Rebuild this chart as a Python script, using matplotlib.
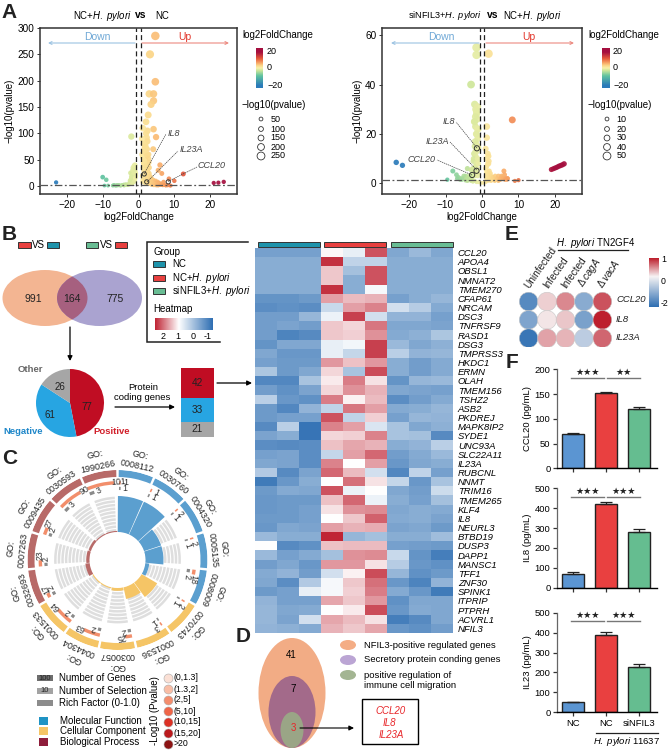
import numpy as np
import matplotlib
matplotlib.use("Agg")
import matplotlib.pyplot as plt
from matplotlib.colors import LinearSegmentedColormap, Normalize
from matplotlib.patches import Ellipse, Rectangle

plt.rcParams['font.family'] = ['Liberation Sans', 'DejaVu Sans']
plt.rcParams['font.size'] = 6.5
plt.rcParams['mathtext.fontset'] = 'custom'
plt.rcParams['mathtext.rm'] = 'Liberation Sans'
plt.rcParams['mathtext.it'] = 'Liberation Sans:italic'
plt.rcParams['mathtext.bf'] = 'Liberation Sans:bold'

W, H = 669, 750

# ---- panel A data
a1_fc = [4.7, 3.2, 4.7, 3.0, 4.2, 4.2, 3.5, 2.7, 2.1, 4.2, 2.5, 4.9, -2.0, 2.3, 2.5, 2.0, 4.1, 2.4, 2.8, 1.8,
         2.0, 2.9, 6.0, 1.5, -1.0, -1.5, -1.0, -1.8, -2.2, -1.0, 5.5, 6.5, 1.5, 2.0, 12.5, 8.5, 10.0, 7.0, -10.0, -9.0,
         -9.5, -8.5, -6.8, -6.0, -5.0, -4.0, -3.0, -2.0, -1.5, -23.0, 21.0, 22.3, 23.8, 1.2, 1.4, 1.7, 2.2, 2.6, 3.0, 3.3,
         3.6, 4.0, 4.4, 4.8, 5.2, 5.6, 6.0, 6.4, 6.8, 7.2, 7.6, 8.0, 9.0, -0.8, -1.2, -1.6, -2.5, -3.5, -4.5, -5.5,
         -6.3, -7.2, 1.1, 1.3, 1.6, 1.9, 2.3, 2.7, 3.1, 3.5, 3.9, 4.3, 5.0, 5.5, 1.5, 1.8, 2.1, -1.3, -1.9, -2.6,
         -7, -6.5, -6, -5.5, -5, -4.5, -4, -3.5, -3, -2.5, -2, -1.5, -1, -0.8, -1.2, -1.6, -2, -2.4, -1, -1.4, -1.8, -2.2,
         -1.2, -1.6, -2, -0.9, -1.3, -1.7, 1, 1, 1.2, 1.4, 1.6, 1.8, 2, 2.2, 2.4, 2.6, 2.8, 3, 1.1, 1.3, 1.5, 1.7, 1.9, 2.1,
         2.3, 2.5, 2.7, 1.2, 1.5, 1.8, 2.1, 2.4, 2.7, 3.0, 3.3, 3.6, 3.9, 4.2, 4.5, 4.8, 5.1, 5.4, 5.7, 6, 6.3, 6.6, 3.2,
         3.6, 4, 4.4, 4.8, 5.2, 5.6, 6.0, 6.4, 6.8, 7.2, 7.6, 8.2, 8.8]
a1_p = [285, 250, 198, 175, 175, 162, 155, 135, 122, 108, 105, 93, 94, 92, 85, 82, 70, 70, 60, 62,
        50, 45, 40, 40, 40, 35, 30, 25, 25, 18, 30, 24, 25, 22, 23, 14, 10, 8, 17, 12,
        1, 1, 2, 1, 1, 1, 2, 5, 10, 7, 6, 6.5, 8, 55, 45, 38, 32, 28, 24, 18,
        14, 12, 9, 7, 5, 4, 3, 3, 2, 2, 1.5, 1.5, 1, 20, 15, 12, 6, 3, 2, 1.5,
        1, 1, 8, 12, 18, 5, 10, 4, 6, 3, 2, 1.5, 1, 1, 30, 75, 100, 8, 5, 3,
        1.5, 1, 2, 2, 1, 2, 3, 3, 3, 5, 6, 8, 10, 25, 28, 20, 14, 10, 35, 22, 16, 12,
        38, 30, 18, 15, 8, 5, 60, 90, 110, 80, 70, 65, 75, 45, 58, 40, 52, 35, 20, 35, 42, 48, 28, 38,
        24, 30, 18, 12, 14, 10, 12, 16, 10, 9, 14, 12, 8, 11, 7, 10, 6, 8, 6, 4, 5, 3, 4,
        3, 5, 4, 3, 3, 4, 2, 2, 1.5, 2, 1, 1.5, 1]
a2_fc = [-1.5, -1.5, 1.8, -3.0, 8.3, -2.0, -1.7, -1.5, -1.3, -2.0, -1.8, -1.0, 1.3, -1.5, -1.2, 1.3, -1.6, -1.0, 1.0, 1.6,
         1.8, 1.2, -2.2, -2.4, 1.8, 1.3, -4.0, -3.0, 1.5, -8.0, -9.5, -7.0, -6.5, -6.0, -5.5, -5.0, -4.5, -4.0, -3.5, -3.0,
         -2.5, -2.0, -1.5, -1.0, -0.5, 0.0, 0.5, 1.0, 1.5, 2.0, 2.5, 3.0, 3.5, 4.0, 4.5, 5.0, 5.5, 6.0, 6.2, 6.8,
         7.0, 9.0, 10.0, -23.5, -21.8, 19.0, 19.5, 20.0, 20.5, 21.0, 21.5, 22.0, 22.5, -1.2, -1.8, -1.4, 1.2, 2.2, 2.8, 3.4,
         -1.2, -1.5, -1.8, -2.1, -1.3, -1.6, -1.9, -1.1, -1.4, -1.7, -2, -2.3, -1.2, -1.5, -1.8, -1, -1.3, -1.6, -1.9, -2.2,
         -2.5, -1.1, -1.4, -1.7, -2, -1.2, -3, -3.5, -2.8, -3.2, -4.5, -5, -5.5, -3.8, -4.2, -6, -6.8, 1, 1.3, 1.6,
         1.9, 1.1, 1.4, 1.7, 2, 2.3, 1.2, 1.5, 1.8, 2.1, 2.4, 2.7, 3, 3.3, 3.6, 3.9, 4.2, 4.5, 4.8, 5.1, 5.4, 5.7, 6.3, 6.6, 7]
a2_p = [55, 52, 52.5, 40, 25.7, 32, 30, 28, 26, 25, 23, 22, 23, 20, 18, 18.5, 16, 14.5, 14, 12,
        11, 10, 12, 9, 8, 7, 6, 5.5, 5, 5, 1.5, 3.5, 2.5, 2, 1.5, 2, 1.2, 1, 2, 1,
        0.7, 1, 0.5, 0.5, 0.3, 0.2, 0.3, 0.5, 1, 1.2, 1, 1.5, 1, 2, 1, 1.5, 2.5, 5, 3.5, 1.5,
        2, 1, 1.3, 8.5, 7.3, 5.6, 5.9, 6.2, 6.5, 6.9, 7.2, 7.5, 7.9, 19, 13, 9, 4, 3, 2.5, 2,
        31, 29, 27, 25, 22, 20, 17, 15, 13, 11, 15, 10, 10, 8, 7, 8, 6, 5, 6, 5,
        6, 4, 4, 4, 3, 3, 3.5, 3, 2, 2, 3, 3, 2, 2.5, 2, 1.5, 2, 6, 5, 8,
        9, 3, 3.5, 4, 5, 4, 2, 2, 3, 2, 3, 2, 2.5, 2, 3, 1.5, 2, 3, 1.5, 2, 3, 2, 1.5, 2, 2]
a1_open_fc = [1.6, 2.3, 8.3]
a1_open_p = [23, 8, 8]
a2_open_fc = [-1.4, -1.5, -2.7]
a2_open_p = [14.2, 5.1, 3.4]
size_legend_1 = [50, 100, 150, 200, 250]
size_legend_2 = [10, 20, 30, 40, 50]

# ---- panel B data
venn_counts = [991, 164, 775]
pie_values = [77, 61, 26]
stack_values = [42, 33, 21]
stack_colors = ['#c00d23', '#27a5e2', '#a6a6a6']
genes = ['CCL20', 'APOA4', 'OBSL1', 'NMNAT2', 'TMEM270', 'CFAP61', 'NRCAM', 'DSC3', 'TNFRSF9', 'RASD1', 'DSG3',
         'TMPRSS3', 'HKDC1', 'ERMN', 'OLAH', 'TMEM156', 'TSHZ2', 'ASB2', 'PKDREJ', 'MAPK8IP2', 'SYDE1', 'UNC93A',
         'SLC22A11', 'IL23A', 'RUBCNL', 'NNMT', 'TRIM16', 'TMEM265', 'KLF4', 'IL8', 'NEURL3', 'BTBD19', 'DUSP3',
         'DAPP1', 'MANSC1', 'TFF1', 'ZNF30', 'SPINK1', 'ITPRIP', 'PTPRH', 'ACVRL1', 'NFIL3']
heat = [
    [-.7, -.7, -.7, .85, .55, 2.05, -.6, -.3, -.6],
    [-.5, -.5, -.5, 2.3, .1, .1, -.5, -.5, -.5],
    [-.5, -.5, -.5, 1.2, -.2, 2.05, -.5, -.5, -.5],
    [-.5, -.5, -.5, 1.2, -.5, 2.05, -.5, -.5, -.5],
    [-.5, -.5, -.5, 2.3, -.5, .7, -.5, -.5, -.5],
    [-.9, -.9, -.8, 1.5, 1.3, 1.35, -.7, -.5, -.35],
    [-1, -.95, -1, .2, 1.5, 1.7, .3, 0, -.55],
    [-.75, -.75, -.35, .6, 2.2, .3, -.4, -.4, -.7],
    [-.75, -.65, -.75, 1.2, 1.1, 1.8, -.6, -.6, -.65],
    [-.75, -1.15, -1.05, 1.2, 1.15, 1.6, -.55, -.45, -.1],
    [-.9, -.6, -.6, .55, .65, 2.2, -.3, -.6, -.45],
    [-.6, -.85, -.85, .55, .15, 2.2, .05, -.4, -.35],
    [-.7, -.8, -.8, 1.55, 1.25, 1.55, -.5, -.75, -.55],
    [-.1, -.8, -.6, 1.1, -.15, 2.1, -.5, -.75, -.55],
    [-1.1, -1.1, -.15, .95, 1.75, 1.0, -.9, -.35, -.3],
    [-.75, -.95, -.65, 1.1, 1.6, 1.35, -.6, -.65, -.7],
    [.05, -.85, -.95, 1.75, .9, 1.3, -1, -.75, -.55],
    [-.8, -1.1, -.4, .1, 1.8, 1.5, -.55, -.5, -.35],
    [-.8, -.7, -.7, 2.05, .1, 1.15, -.7, -.35, -.4],
    [-1.05, .05, -1.4, 1.7, 1.5, .4, -.15, -.6, -.45],
    [-.65, -.5, -1.4, 1.1, 1.15, 1.7, -.15, -.2, -1.05],
    [-1, -1.05, -1, 1.25, 1.45, 1.35, -.5, -.4, .05],
    [-.7, -.65, -1, .15, 1.5, 1.9, -.75, -.55, -.3],
    [-.6, -.65, -1, 1.7, .8, 1.5, -.85, -.6, -.5],
    [-.05, -1.05, -.65, 1.9, 1.3, .3, -1.1, .1, -.7],
    [-1.3, -.85, -.5, .8, 1.85, 1.0, .15, -.85, -.15],
    [-.8, -.55, -.6, 2.05, .6, .8, -.6, -.75, .25],
    [-.85, -.8, -.8, 1.25, 1.9, .6, -.5, -.7, -.2],
    [-.85, -.8, -.7, 1.0, 1.6, 1.65, -.6, -.5, -.55],
    [-.8, -.8, -.7, .8, 1.2, 1.95, -.55, -.5, -.65],
    [-.85, -.6, -.65, 1.5, 1.35, 1.4, -.65, -.6, -.8],
    [-.3, -.5, -.5, 2.4, -.35, -.2, -.5, -.5, -.25],
    [.8, -1.05, -.95, 1.25, 1.3, 1.3, -.7, -.75, -.8],
    [-.3, -.7, -.55, -.2, 1.6, 1.65, .2, -.9, -1.25],
    [-.75, -.6, -.85, 1.55, 1.55, 1.0, 0, -.85, -.95],
    [-.55, -.4, -.75, .3, .9, 2.1, -.35, -.95, -.8],
    [-.6, -1, -.05, .7, 1.2, 1.85, -.85, -1.15, -.4],
    [-.8, -.7, .55, .7, 1.15, 1.75, -.55, -.85, -1.3],
    [-.4, -.7, -.7, 1.45, 1.2, 1.55, -.95, -.6, -.6],
    [-.35, -.6, -.55, .8, .95, 2.1, -.85, -.55, -.6],
    [-.35, -.65, .3, 1.45, 1.3, 1.0, -1.25, -1.05, -.6],
    [-.4, -.45, -.55, 1.35, 1.2, 1.45, -.85, -.95, -.75],
]

# ---- panel C data
go_ids = ['0008112', '0030760', '0004320', '0005135', '0008009', '0070743', '0001536', '0030057',
          '0044304', '0001533', '0032693', '0007263', '0009435', '0030593', '1990266']
go_genes = [1, 1, 2, 2, 18, 2, 3, 25, 63, 64, 17, 23, 27, 90, 101]
go_select = [1, 1, 1, 1, 2, 1, 1, 2, 2, 2, 2, 2, 2, 3, 3]
go_rich = [1.0, 1.0, .5, .5, .11, .5, .33, .08, .03, .03, .12, .09, .07, .03, .03]
go_group = ['MF'] * 5 + ['CC'] * 5 + ['BP'] * 5
go_colors = {'MF': '#5b9fcf', 'CC': '#f5c566', 'BP': '#b86a68'}
pval_labels = ['(0,1.3]', '(1.3,2]', '(2,5]', '(5,10]', '(10,15]', '(15,20]', '>20']
pval_colors = ['#fbe0d5', '#f9bda5', '#f48d6d', '#ef6548', '#dc3125', '#bb1a1d', '#8c1414']

# ---- panel E data
e_rows = ['CCL20', 'IL8', 'IL23A']
e_cols = ['Uninfected', 'Infected', 'Infected', r'$\Delta\,\mathit{cagA}$', r'$\Delta\,\mathit{vacA}$']
e_vals = [[-1.7, 0.1, .5, -1.2, .8],
          [-1.3, -.02, .15, -1.35, 1.1],
          [-2.0, .35, .25, -.7, .7]]

# ---- panel F data
f_names = ['CCL20 (pg/mL)', 'IL8 (pg/mL)', 'IL23 (pg/mL)']
f_means = [[70, 152, 119], [70, 422, 282], [50, 388, 225]]
f_errs = [[2, 3, 5], [8, 10, 15], [2, 14, 18]]
f_tops = [200, 500, 500]
f_ticks = [[0, 50, 100, 150, 200], [0, 100, 200, 300, 400, 500], [0, 100, 200, 300, 400, 500]]
f_stars = [['\u2605\u2605\u2605', '\u2605\u2605'], ['\u2605\u2605\u2605', '\u2605\u2605\u2605'], ['\u2605\u2605\u2605', '\u2605\u2605\u2605']]
f_colors = ['#5b95d2', '#e94040', '#65bd90']

fig = plt.figure(figsize=(W / 100, H / 100), dpi=100)


def px_axes(x0, y0, x1, y1, **kw):
    # axes given by pixel corners, y counted from the top
    return fig.add_axes([x0 / W, 1 - y1 / H, (x1 - x0) / W, (y1 - y0) / H], **kw)


volc = LinearSegmentedColormap.from_list('volc', [
    (0.0, '#2b7bba'), (3 / 50, '#2b7bba'), (15 / 50, '#5fc3a0'), (22 / 50, '#cfe79a'), (25 / 50, '#f9f0ab'),
    (28 / 50, '#fbd88a'), (31 / 50, '#f9ad6a'), (37 / 50, '#e65a3a'), (45 / 50, '#a50f3f'), (1.0, '#a50f3f')])


def dot_size(p, pmax):
    return ((3.5 + 5 * np.sqrt(np.asarray(p, dtype=float) / pmax)) * 0.72) ** 2


# volcano plots
volcano_cfg = [
    (a1_fc, a1_p, a1_open_fc, a1_open_p, (40, 28, 237, 194), (-27.5, 27.5), (-15, 300), [0, 50, 100, 150, 200, 250, 300], 285, 9),
    (a2_fc, a2_p, a2_open_fc, a2_open_p, (382, 28, 582, 194), (-27.4, 27.4), (-4.3, 62.9), [0, 20, 40, 60], 55, 14),
]
for fc, p, ofc, op, box, xl, yl, yt, pmax, open_s in volcano_cfg:
    ax = px_axes(*box)
    ax.scatter(fc, p, c=fc, cmap=volc, norm=Normalize(-25, 25), s=dot_size(p, pmax), linewidths=0, alpha=.92, zorder=2)
    ax.scatter(ofc, op, s=open_s, facecolors='none', edgecolors='#333333', linewidths=.7, zorder=4)
    ax.axvline(-0.6, color='#222222', lw=.9, ls=(0, (4, 2.5)), zorder=3)
    ax.axvline(0.6, color='#222222', lw=.9, ls=(0, (4, 2.5)), zorder=3)
    ax.axhline(1.3, color='#555555', lw=.9, ls=(0, (6, 2, 1.5, 2)), zorder=3)
    ax.set_xlim(*xl)
    ax.set_ylim(*yl)
    ax.set_xticks([-20, -10, 0, 10, 20])
    ax.set_yticks(yt)
    ax.tick_params(length=2.5, width=.7, pad=1.5, labelsize=7.2, color='#333333')
    for s in ax.spines.values():
        s.set_linewidth(1.1)
        s.set_color('#333333')
    ax.set_xlabel('log2FoldChange', fontsize=7, labelpad=1.5)
    ax.set_ylabel('\u2212log10(pvalue)', fontsize=7, labelpad=2)

# heatmap
heat_cmap = LinearSegmentedColormap.from_list('heat', [
    (0.0, '#2f6fb3'), (2.3 / 3.9, '#ffffff'), (1.0, '#c02535')])
ax = px_axes(255, 248, 453, 633)
ax.imshow(np.array(heat), aspect='auto', cmap=heat_cmap, vmin=-1.5, vmax=2.4, interpolation='nearest')
ax.set_xticks([])
ax.set_yticks(range(len(genes)))
ax.set_yticklabels(genes, style='italic', fontsize=6.8)
ax.yaxis.tick_right()
ax.tick_params(axis='y', length=0, pad=3.5)
for s in ax.spines.values():
    s.set_visible(False)

# pie
ax = px_axes(36, 369, 104, 437)
wedges, _ = ax.pie(pie_values, colors=['#c00d23', '#27a5e2', '#a6a6a6'], startangle=90, counterclock=False,
                   radius=1.0, wedgeprops={'linewidth': 0})
ax.set_xlim(-1, 1)
ax.set_ylim(-1, 1)

# stacked bar
ax = px_axes(181, 368, 214, 437)
bottom = sum(stack_values)
for v, c in zip(stack_values, stack_colors):
    bottom -= v
    ax.bar(0, v, bottom=bottom, width=1, color=c)
    ax.text(0, bottom + v / 2, str(v), ha='center', va='center', fontsize=7.2, color='#222222')
ax.set_xlim(-.5, .5)
ax.set_ylim(0, sum(stack_values))
ax.axis('off')

# circular GO plot, radii in pixels
cx, cy = 117.5, 560
cp = px_axes(cx - 90, cy - 90, cx + 90, cy + 90, projection='polar')
cp.set_theta_zero_location('N')
cp.set_theta_direction(-1)
cp.set_rlim(0, 90)
cp.set_axis_off()
step = 24.0
gap = 1.6
for i, gid in enumerate(go_ids):
    start = i * step
    col = go_colors[go_group[i]]
    th = np.deg2rad(start + step / 2)
    wid = np.deg2rad(step - gap)
    cp.bar(th, 7, width=wid, bottom=83, color=col, linewidth=0)
    # grey rich factor stripes
    for k in range(10):
        cp.bar(th, 2.5, width=np.deg2rad(step - 5), bottom=28.5 + k * 3.6, color='#dedede', linewidth=0)
    cp.bar(th, 36 * go_rich[i], width=np.deg2rad(step - .8), bottom=28, color=col, linewidth=0)
    # number of genes and number of selection
    arc = max((step - 3) * min(go_genes[i] / 105, 1.0), 1.2)
    cp.bar(np.deg2rad(start + 1.2 + arc / 2), 3.4, width=np.deg2rad(arc), bottom=75.5, color='#f28e6b', linewidth=0)
    sel_arc = 1.3 * go_select[i]
    cp.bar(np.deg2rad(start + 1.2 + sel_arc / 2), 3.2, width=np.deg2rad(sel_arc), bottom=70, color='#8a8a8a', linewidth=0)

# overlay in pixel coordinates for all labels and furniture, on top of every other axes
ov = fig.add_axes([0, 0, 1, 1])
ov.set_xlim(0, W)
ov.set_ylim(H, 0)
ov.axis('off')
ov.patch.set_alpha(0)
ov.set_zorder(10)


def T(x, y, s, ha='left', va='center', size=6.5, **kw):
    return ov.text(x, y, s, ha=ha, va=va, fontsize=size, **kw)


def arrow(x0, y0, x1, y1, color='black', lw=.9, ms=7):
    ov.annotate('', xy=(x1, y1), xytext=(x0, y0),
                arrowprops=dict(arrowstyle='-|>', color=color, lw=lw, mutation_scale=ms, shrinkA=0, shrinkB=0))


def swatch(x0, y0, x1, y1, fc, ec='#333333', lw=.7):
    ov.add_patch(Rectangle((x0, y0), x1 - x0, y1 - y0, facecolor=fc, edgecolor=ec, linewidth=lw))


# panel letters
for s, x, y in [('A', 1, 12), ('B', 2, 234), ('C', 2, 458), ('D', 236, 637), ('E', 505, 235), ('F', 506, 363)]:
    T(x, y, s, size=15, fontweight='bold', color='#222222')

# A titles
T(73, 16, r'NC+$\mathit{H.\ pylori}$', size=6.9)
T(135, 15, 'vs', size=7.4, fontweight='bold')
T(155, 16, 'NC', size=6.9)
T(408, 16, r'siNFIL3+$\mathit{H.\ pylori}$', size=6.6)
T(487, 15, 'vs', size=7.4, fontweight='bold')
T(503, 16, r'NC+$\mathit{H.\ pylori}$', size=6.9)

# Down / Up arrows
for x0, x1, x2, x3 in [(48, 135, 142, 229), (391, 479, 486, 574)]:
    ov.annotate('', xy=(x0, 43), xytext=(x1, 43), arrowprops=dict(arrowstyle='->', color='#9cc3e2', lw=.8, mutation_scale=5, shrinkA=0, shrinkB=0))
    ov.annotate('', xy=(x3, 43), xytext=(x2, 43), arrowprops=dict(arrowstyle='->', color='#ec8a80', lw=.8, mutation_scale=5, shrinkA=0, shrinkB=0))
    T((x0 + x1) / 2 + 6, 37, 'Down', ha='center', size=7.5, color='#6fa8d6')
    T((x2 + x3) / 2 - 1, 37, 'Up', ha='center', size=7.5, color='#e2362b')

# gene callouts
for x0, y0, x1, y1, tx, ty, s, ha in [
    (144, 174, 166, 134, 168, 133, 'IL8', 'left'), (147, 182, 178, 151, 180, 149, 'IL23A', 'left'),
    (168, 181.5, 197, 167, 198, 165, 'CCL20', 'left'), (477, 148, 456, 122, 455, 122, 'IL8', 'right'),
    (476.7, 170, 450, 142, 449, 142, 'IL23A', 'right'), (472, 175, 437, 160, 436, 160, 'CCL20', 'right')]:
    ov.plot([x0, x1], [y0, y1], color='#444444', lw=.5, ls=(0, (2, 1)))
    T(tx, ty, s, ha=ha, size=6.5, style='italic', color='#444444')

# colour bars and size legends of A
grad = np.linspace(1, 0, 100).reshape(-1, 1)
for cx0, cx1, tx, lx, dx, sl, pmax in [(256, 263, 242, 267, 261, size_legend_1, 285),
                                       (602, 610, 588, 613, 607, size_legend_2, 55)]:
    T(tx, 35, 'log2FoldChange', size=7)
    ov.imshow(grad, extent=(cx0, cx1, 88, 48), aspect='auto', cmap=volc, zorder=2)
    for y, s in [(51, '20'), (68, '0'), (86, '\u221220')]:
        T(lx, y, s, size=6.5)
    T(tx, 105, '\u2212log10(pvalue)', size=7)
    for i, (v, y) in enumerate(zip(sl, [119, 129, 138, 147, 156])):
        ov.scatter([dx], [y], s=(3.8 + i * 1.0) ** 2 * .52, facecolors='none', edgecolors='#333333', linewidths=.6)
        T(dx + 9.5, y, str(v), size=6.5)
ov.set_xlim(0, W)
ov.set_ylim(H, 0)

# B: VS boxes
swatch(18, 242, 31, 248, '#e8403f')
T(32, 245, 'VS', size=7)
swatch(47, 242, 59, 248, '#1e93ab')
swatch(86, 242, 98, 248, '#69bd94')
T(100, 245, 'VS', size=7)
swatch(115, 242, 127, 248, '#e8403f')

# B: venn
left_e = Ellipse((45, 298), 85, 56, facecolor='#f3b592', edgecolor='none')
right_e = Ellipse((99.5, 298), 85, 56, facecolor='#aaa3d0', edgecolor='none')
ov.add_patch(left_e)
ov.add_patch(right_e)
mid_e = Ellipse((99.5, 298), 85, 56, facecolor='#a6607f', edgecolor='none')
ov.add_patch(mid_e)
mid_e.set_clip_path(left_e)
for x, v in zip([33, 72, 115], venn_counts):
    T(x, 298.5, str(v), ha='center', size=7.5, color='#222222')
arrow(70, 327, 70, 361)

# B: group legend box
ov.plot([248, 147, 147, 220], [242, 242, 342, 342], color='#222222', lw=1.1, solid_joinstyle='miter')
T(153, 252, 'Group', size=7)
for y, c, s in [(264, '#1e93ab', 'NC'), (278, '#e8403f', r'NC+$\mathit{H.\ pylori}$'),
                (291, '#69bd94', r'siNFIL3+$\mathit{H.\ pylori}$')]:
    swatch(153, y - 3, 165, y + 3, c)
    T(172, y, s, size=7)
T(153, 309, 'Heatmap', size=7)
ov.imshow(np.linspace(1, 0, 100).reshape(1, -1), extent=(155, 213, 330, 318), aspect='auto', cmap=heat_cmap, zorder=2)
ov.set_xlim(0, W)
ov.set_ylim(H, 0)
for x, s in [(163, '2'), (178, '1'), (193, '0'), (208, '-1')]:
    T(x, 336.5, s, ha='center', size=6.5)

# B: pie labels, stacked bar arrows
T(30, 369, 'Other', ha='center', size=6.8, fontweight='bold', color='#666666')
T(23, 431, 'Negative', ha='center', size=6.8, fontweight='bold', color='#1f87c9')
T(112, 431, 'Positive', ha='center', size=6.8, fontweight='bold', color='#d11f2a')
T(87, 407, str(pie_values[0]), ha='center', size=7, color='#222222')
T(50, 415, str(pie_values[1]), ha='center', size=7, color='#222222')
T(60, 387, str(pie_values[2]), ha='center', size=7, color='#222222')
T(128, 387, 'Protein', size=6.8)
T(114, 398, 'coding genes', size=6.8)
arrow(115, 407, 175, 407)
arrow(217, 383, 252, 383)

# heatmap group bars and arrow
swatch(258, 242, 320, 247, '#1e93ab')
swatch(324, 242, 386, 247, '#e8403f')
swatch(391, 242, 453, 247, '#69bd94')


# C: outer labels, counts
def pol(r, deg):
    return cx + r * np.sin(np.deg2rad(deg)), cy - r * np.cos(np.deg2rad(deg))


for i, gid in enumerate(go_ids):
    mid = i * step + step / 2
    x, y = pol(95.5, mid)
    T(x, y, gid, ha='center', size=6.5, rotation=-mid, rotation_mode='anchor', color='#222222')
    x, y = pol(107, mid)
    T(x, y, 'GO:', ha='center', size=6.5, rotation=-mid, rotation_mode='anchor', color='#222222')
    arc = max((step - 3) * min(go_genes[i] / 105, 1.0), 1.2)
    x, y = pol(77.5, i * step + 1.2 + arc + 3.5)
    T(x, y, str(go_genes[i]), ha='center', size=6.3, rotation=-(i * step + arc), rotation_mode='anchor', color='#333333')
    x, y = pol(71.5, i * step + 1.2 + 1.3 * go_select[i] + 3.5)
    T(x, y, str(go_select[i]), ha='center', size=6.3, rotation=-(i * step), rotation_mode='anchor', color='#333333')

# C: legends
for y, c, s, tag in [(678, '#6e6e6e', 'Number of Genes', '100'), (691, '#a3a3a3', 'Number of Selection', '10'),
                     (703, '#8c8c8c', 'Rich Factor (0-1.0)', '')]:
    swatch(37, y - 3, 53, y + 3, c, ec='none')
    if tag:
        T(45, y, tag, ha='center', size=5.5, color='#222222')
    T(59, y, s, size=7)
for y, c, s in [(721, '#1f93c4', 'Molecular Function'), (731, '#f5c566', 'Cellular Component'),
                (742, '#8e1d3b', 'Biological Process')]:
    swatch(39, y - 4, 48, y + 4, c, ec='none')
    T(60, y, s, size=7)
T(155, 711, '-Log10 (Pvalue)', ha='center', size=7, rotation=90)
for y, c, s in zip([678, 689, 700, 711, 722, 733, 744], pval_colors, pval_labels):
    ov.scatter([168], [y], s=42, color=c, edgecolors='#aaaaaa', linewidths=.4)
    T(174, y, s, size=6.3)
ov.set_xlim(0, W)
ov.set_ylim(H, 0)

# D
ov.add_patch(Ellipse((292, 693), 67, 110, facecolor='#f2ac85', edgecolor='none'))
ov.add_patch(Ellipse((292, 712), 47, 72, facecolor='#a36a8a', edgecolor='none'))
ov.add_patch(Ellipse((292, 730), 23, 36, facecolor='#9aa586', edgecolor='none'))
T(291.5, 655, '41', ha='center', size=7)
T(293, 689, '7', ha='center', size=7)
T(293, 728, '3', ha='center', size=7, color='#e8262a')
arrow(300, 728, 354, 728, lw=.8)
ov.add_patch(Rectangle((362, 699), 56, 45, facecolor='white', edgecolor='black', linewidth=1))
T(391, 711, 'CCL20', ha='center', size=7, style='italic', color='#e8262a')
T(389, 723.5, 'IL8', ha='center', size=7, style='italic', color='#e8262a')
T(391, 735, 'IL23A', ha='center', size=7, style='italic', color='#e8262a')
for y, c in [(645, '#f4ad85'), (660, '#bba5d4'), (675, '#a3b592')]:
    ov.add_patch(Ellipse((348, y), 16, 10, facecolor=c, edgecolor='none'))
T(364, 645, 'NFIL3-positive regulated genes', size=6.8)
T(364, 660, 'Secretory protein conding genes', size=6.8)
T(364, 675, 'positive regulation of', size=6.8)
T(364, 686, 'immune cell migration', size=6.8)

# E
T(556, 243, r'$\mathit{H.\ pylori}$ TN2GF4', size=7)
ov.plot([558, 628], [250, 250], color='#222222', lw=.9)
for x, s in zip([531, 550, 568, 586, 604], e_cols):
    T(x, 290, s, ha='left', va='bottom', size=7.2, rotation=55, rotation_mode='anchor', color='#222222')
ax = px_axes(519.4, 292.4, 611.6, 347.4)
xx, yy = np.meshgrid(range(5), range(3))
e_cmap = LinearSegmentedColormap.from_list('e', [(0, '#2f6fb3'), (2 / 3.2, '#f7f4f4'), (1, '#bd1f2d')])
ax.scatter(xx.ravel(), yy.ravel(), c=np.array(e_vals).ravel(), cmap=e_cmap, vmin=-2.1, vmax=1.1, s=182,
           edgecolors='#c8c8c8', linewidths=.4)
ax.set_xlim(-.5, 4.5)
ax.set_ylim(2.5, -.5)
ax.axis('off')
for y, s in zip([300, 319, 337], e_rows):
    T(616, y, s, size=6.8, style='italic', color='#222222')
ov.imshow(np.linspace(1, 0, 100).reshape(-1, 1), extent=(649, 659, 307, 258), aspect='auto', cmap=e_cmap, zorder=2)
ov.set_xlim(0, W)
ov.set_ylim(H, 0)
for y, s in [(260, '1'), (281, '0'), (304, '-2')]:
    T(661, y, s, size=6.3)

# F
f_boxes = [(369.3, 468.3), (488.3, 587.7), (612.7, 712.3)]
x_pos = [0, 1, 2]
for j, (top, bot) in enumerate(f_boxes):
    ax = px_axes(556.7, top, 656.7, bot)
    ax.bar(x_pos, f_means[j], width=.66, color=f_colors, edgecolor='#222222', linewidth=1)
    ax.errorbar(x_pos, f_means[j], yerr=[[0, 0, 0], f_errs[j]], fmt='none', ecolor='#222222', elinewidth=.9,
                capsize=4.5, capthick=.9)
    ax.set_xlim(-.48, 2.52)
    ax.set_ylim(0, f_tops[j])
    ax.set_yticks(f_ticks[j])
    ax.set_xticks(x_pos)
    ax.set_xticklabels(['NC', 'NC', 'siNFIL3'] if j == 2 else ['', '', ''], fontsize=6.8)
    ax.tick_params(length=3, width=.9, pad=1.5, labelsize=6.8, color='#333333')
    ax.spines['top'].set_visible(False)
    ax.spines['right'].set_visible(False)
    ax.spines['left'].set_linewidth(.9)
    ax.spines['left'].set_color('#666666')
    ax.spines['bottom'].set_linewidth(1)
    ax.set_ylabel(f_names[j], fontsize=6.8, labelpad=2)
    ly = top + 8.4
    ov.plot([571, 604], [ly, ly], color='#777777', lw=1)
    ov.plot([607, 640], [ly, ly], color='#777777', lw=1)
    T(587.5, ly - 5.5, f_stars[j][0], ha='center', size=6.6, color='#222222')
    T(623.5, ly - 5.5, f_stars[j][1], ha='center', size=6.6, color='#222222')
ov.plot([596, 658], [733, 733], color='#222222', lw=.9)
T(627, 741, r'$\mathit{H.\ pylori}$ 11637', ha='center', size=6.8)

fig.savefig('out.png', dpi=100)
